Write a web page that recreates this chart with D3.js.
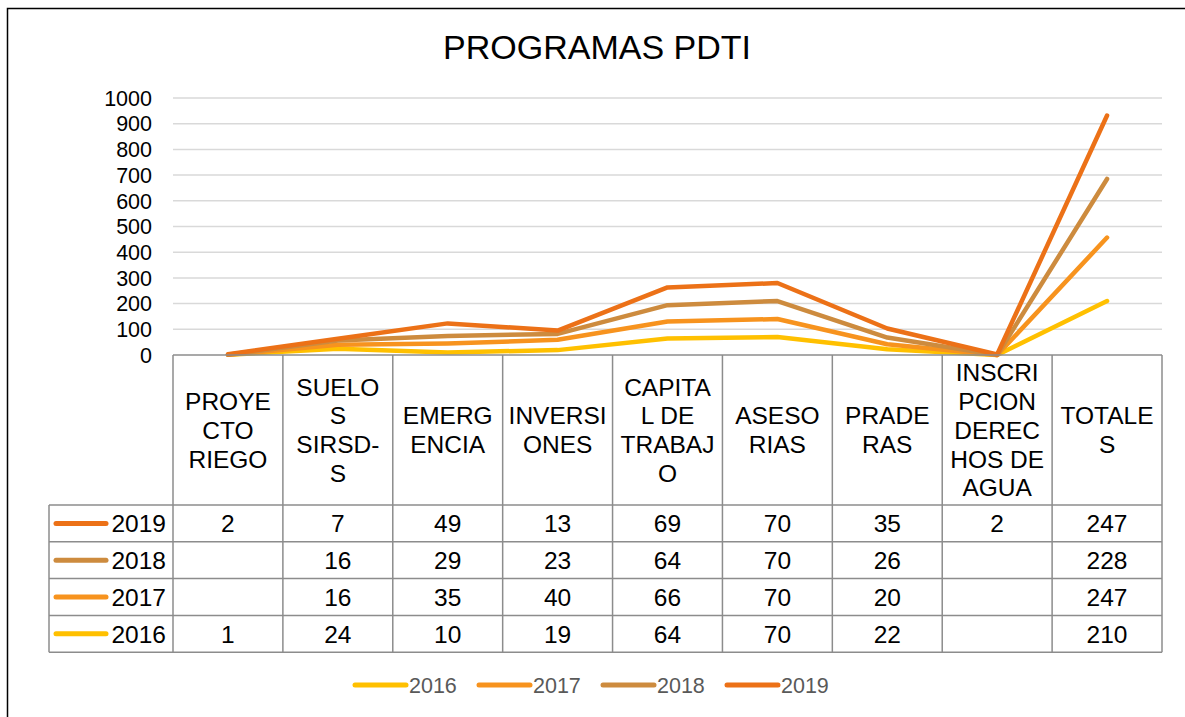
<!DOCTYPE html>
<html>
<head>
<meta charset="utf-8">
<script src="https://cdnjs.cloudflare.com/ajax/libs/d3/7.8.5/d3.min.js"></script>
<style>
  body { margin: 0; background: #fff; }
  svg { display: block; font-family: "Liberation Sans", Arial, sans-serif; }
</style>
</head>
<body>
<div id="chart"></div>
<script>
// Data
var categories = ["PROYECTO RIEGO", "SUELOS SIRSD-S", "EMERGENCIA", "INVERSIONES", "CAPITAL DE TRABAJO",
                  "ASESORIAS", "PRADERAS", "INSCRIPCION DERECHOS DE AGUA", "TOTALES"];
// header text as wrapped in the data table
var headerLines = [
  ["PROYE", "CTO", "RIEGO"],
  ["SUELO", "S", "SIRSD-", "S"],
  ["EMERG", "ENCIA"],
  ["INVERSI", "ONES"],
  ["CAPITA", "L DE", "TRABAJ", "O"],
  ["ASESO", "RIAS"],
  ["PRADE", "RAS"],
  ["INSCRI", "PCION", "DEREC", "HOS DE", "AGUA"],
  ["TOTALE", "S"]
];
var years = ["2016", "2017", "2018", "2019"];
var values2016 = [1, 24, 10, 19, 64, 70, 22, null, 210];
var values2017 = [null, 16, 35, 40, 66, 70, 20, null, 247];
var values2018 = [null, 16, 29, 23, 64, 70, 26, null, 228];
var values2019 = [2, 7, 49, 13, 69, 70, 35, 2, 247];
var yTicks = [0, 100, 200, 300, 400, 500, 600, 700, 800, 900, 1000];
var colors = ["#FFC000", "#F7931E", "#CD8B3E", "#EC7117"];

var seriesValues = [values2016, values2017, values2018, values2019];

// Size constants
var totWidth = 1185,
    totHeight = 717;
var plot = {left: 173, right: 1162, top: 98, bottom: 355};
var table = {left: 49, headerBottom: 505, rowHeight: 36.8};

var svg = d3.select("#chart")
  .append("svg")
    .attr("width", totWidth)
    .attr("height", totHeight);

// outer frame (runs off the picture on the right and bottom)
svg.append("rect")
  .attr("x", 7.5).attr("y", 8.5)
  .attr("width", 1300).attr("height", 900)
  .attr("fill", "none")
  .attr("stroke", "#000")
  .attr("stroke-width", 1.5);

// Title
svg.append("text")
  .attr("x", 597)
  .attr("y", 59)
  .attr("text-anchor", "middle")
  .attr("font-size", "34px")
  .attr("fill", "#000")
  .text("PROGRAMAS PDTI");

// Scales
var x = d3.scaleBand()
  .domain(categories)
  .range([plot.left, plot.right]);

var y = d3.scaleLinear()
  .domain([0, 1000])
  .range([plot.bottom, plot.top]);

// Grid lines + y labels
svg.append("g")
  .selectAll("line")
  .data(yTicks.slice(1))
  .enter()
  .append("line")
    .attr("x1", plot.left)
    .attr("x2", plot.right)
    .attr("y1", function(d) { return y(d); })
    .attr("y2", function(d) { return y(d); })
    .attr("stroke", "#d9d9d9")
    .attr("stroke-width", 1.5);

svg.append("g")
  .selectAll("text")
  .data(yTicks)
  .enter()
  .append("text")
    .attr("x", 152)
    .attr("y", function(d) { return y(d); })
    .attr("dy", "0.36em")
    .attr("text-anchor", "end")
    .attr("font-size", "21.5px")
    .attr("fill", "#000")
    .text(function(d) { return d; });

// stack the data (blanks count as zero)
var rows = categories.map(function(c, i) {
  var r = {cat: c};
  years.forEach(function(yr, j) { r[yr] = seriesValues[j][i] || 0; });
  return r;
});
var stackedData = d3.stack().keys(years)(rows);

var line = d3.line()
  .x(function(d) { return x(d.data.cat) + x.bandwidth() / 2; })
  .y(function(d) { return y(d[1]); });

svg.append("g")
  .selectAll("path")
  .data(stackedData)
  .enter()
  .append("path")
    .attr("d", line)
    .attr("fill", "none")
    .attr("stroke", function(d, i) { return colors[i]; })
    .attr("stroke-width", 4.5)
    .attr("stroke-linecap", "round")
    .attr("stroke-linejoin", "round");

// Data table
var gridColor = "#8c8c8c";
var tbl = svg.append("g");
var tableBottom = table.headerBottom + table.rowHeight * years.length;

// header row
tbl.append("line")
  .attr("x1", plot.left).attr("x2", plot.right)
  .attr("y1", plot.bottom).attr("y2", plot.bottom)
  .attr("stroke", gridColor).attr("stroke-width", 1.5);

categories.forEach(function(c, i) {
  var cx = x(c) + x.bandwidth() / 2;
  var lines = headerLines[i];
  var mid = (plot.bottom + table.headerBottom) / 2;
  var step = 28.8;
  lines.forEach(function(t, k) {
    tbl.append("text")
      .attr("x", cx)
      .attr("y", mid + (k - (lines.length - 1) / 2) * step)
      .attr("dy", "0.36em")
      .attr("text-anchor", "middle")
      .attr("font-size", "24.5px")
      .attr("fill", "#000")
      .text(t);
  });
});

// vertical lines
var vx = categories.map(function(c) { return x(c); }).concat([plot.right]);
vx.forEach(function(v) {
  tbl.append("line")
    .attr("x1", v).attr("x2", v)
    .attr("y1", plot.bottom).attr("y2", tableBottom)
    .attr("stroke", gridColor).attr("stroke-width", 1.5);
});
tbl.append("line")
  .attr("x1", table.left).attr("x2", table.left)
  .attr("y1", table.headerBottom).attr("y2", tableBottom)
  .attr("stroke", gridColor).attr("stroke-width", 1.5);

// horizontal lines of body rows
d3.range(years.length + 1).forEach(function(k) {
  var yy = table.headerBottom + k * table.rowHeight;
  tbl.append("line")
    .attr("x1", table.left).attr("x2", plot.right)
    .attr("y1", yy).attr("y2", yy)
    .attr("stroke", gridColor).attr("stroke-width", 1.5);
});

// body rows: 2019 on top
var rowOrder = years.map(function(d, i) { return i; }).reverse();
rowOrder.forEach(function(j, k) {
  var cy = table.headerBottom + (k + 0.5) * table.rowHeight;
  tbl.append("line")
    .attr("x1", 56).attr("x2", 106)
    .attr("y1", cy).attr("y2", cy)
    .attr("stroke", colors[j])
    .attr("stroke-width", 5)
    .attr("stroke-linecap", "round");
  tbl.append("text")
    .attr("x", 166)
    .attr("y", cy)
    .attr("dy", "0.36em")
    .attr("text-anchor", "end")
    .attr("font-size", "24.5px")
    .attr("fill", "#000")
    .text(years[j]);
  seriesValues[j].forEach(function(v, i) {
    if (v === null) return;
    tbl.append("text")
      .attr("x", x(categories[i]) + x.bandwidth() / 2)
      .attr("y", cy)
      .attr("dy", "0.36em")
      .attr("text-anchor", "middle")
      .attr("font-size", "24.5px")
      .attr("fill", "#000")
      .text(v);
  });
});

// Legend
var legend = svg.append("g")
  .selectAll("g")
  .data(years)
  .enter()
  .append("g")
    .attr("transform", function(d, i) { return "translate(" + (355 + i * 124) + ",685)"; });

legend.append("line")
  .attr("x1", 0).attr("x2", 51)
  .attr("y1", 0).attr("y2", 0)
  .attr("stroke", function(d, i) { return colors[i]; })
  .attr("stroke-width", 5)
  .attr("stroke-linecap", "round");

legend.append("text")
  .attr("x", 54)
  .attr("y", 0)
  .attr("dy", "0.36em")
  .attr("font-size", "21.5px")
  .attr("fill", "#595959")
  .text(function(d) { return d; });
</script>
</body>
</html>
